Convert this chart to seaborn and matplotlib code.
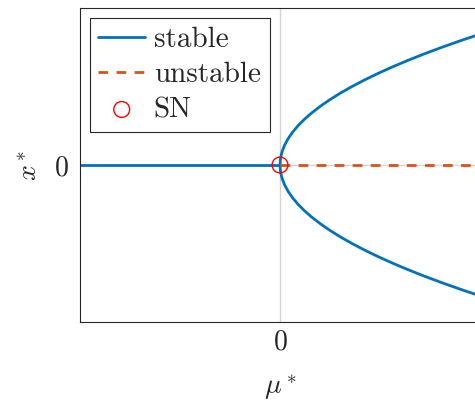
# Pitchfork-style bifurcation diagram
import pandas as pd
import matplotlib
matplotlib.use("Agg")
import matplotlib.pyplot as plt
import seaborn as sns

# branch data
mu_branch = [0, 0.0025, 0.01, 0.0225, 0.04, 0.0625, 0.09, 0.1225, 0.16, 0.2025, 0.25,
             0.3025, 0.36, 0.4225, 0.49, 0.5625, 0.64, 0.7225, 0.81, 0.9025, 1.0]
x_upper = [0, 0.05, 0.1, 0.15, 0.2, 0.25, 0.3, 0.35, 0.4, 0.45, 0.5,
           0.55, 0.6, 0.65, 0.7, 0.75, 0.8, 0.85, 0.9, 0.95, 1.0]
x_lower = [-v for v in x_upper]
mu_trivial_stable = [-1.0, 0.0]
x_trivial_stable = [0.0, 0.0]
mu_trivial_unstable = [0.0, 1.0]
x_trivial_unstable = [0.0, 0.0]
mu_sn = [0.0]
x_sn = [0.0]

blue = "#0072BD"
orange = "#D95319"

sns.set_style("white")
plt.rcParams["font.family"] = "serif"
plt.rcParams["font.serif"] = ["cmr10"]
plt.rcParams["mathtext.fontset"] = "cm"
plt.rcParams["axes.formatter.use_mathtext"] = True

fig = plt.figure(figsize=(4.75, 4.03), dpi=100)
ax = fig.add_axes([80 / 475, 81 / 403, 400 / 475, 314 / 403])

ax.axvline(0, color="#d4d4d4", lw=1, zorder=0)
ax.axhline(0, color="#d4d4d4", lw=1, zorder=0)

upper = pd.DataFrame({"mu": mu_branch, "x": x_upper})
lower = pd.DataFrame({"mu": mu_branch, "x": x_lower})
triv_s = pd.DataFrame({"mu": mu_trivial_stable, "x": x_trivial_stable})
triv_u = pd.DataFrame({"mu": mu_trivial_unstable, "x": x_trivial_unstable})

sns.lineplot(data=triv_s, x="mu", y="x", color=blue, lw=2, ax=ax, label="stable")
sns.lineplot(data=upper, x="mu", y="x", color=blue, lw=2, ax=ax, sort=False)
sns.lineplot(data=lower, x="mu", y="x", color=blue, lw=2, ax=ax, sort=False)
sns.lineplot(data=triv_u, x="mu", y="x", color=orange, lw=2, ax=ax,
             linestyle=(0, (3.5, 3)), label="unstable")
sns.scatterplot(x=mu_sn, y=x_sn, ax=ax, s=130, facecolors="none",
                edgecolor="red", linewidth=1, label="SN", zorder=5)

ax.set_xlim(-1, 1)
ax.set_ylim(-1.2, 1.2)
ax.set_xticks([0])
ax.set_yticks([0])
ax.tick_params(direction="in", length=5, width=0.8, color="#262626",
               labelsize=20, pad=8)
ax.tick_params(axis="x", pad=5)
for sp in ax.spines.values():
    sp.set_color("#262626")
    sp.set_linewidth(0.8)

ax.set_xlabel(r"$\mu^*$", fontsize=20, labelpad=12)
ax.set_ylabel(r"$x^*$", fontsize=20, labelpad=8)

leg = ax.legend(loc="upper left", fontsize=21, handlelength=1.6, handletextpad=0.3,
                labelspacing=0.3, borderpad=0.3, borderaxespad=0.33,
                fancybox=False, framealpha=1)
leg.get_frame().set_edgecolor("#262626")
leg.get_frame().set_linewidth(0.8)

fig.savefig("out.png", dpi=100)
